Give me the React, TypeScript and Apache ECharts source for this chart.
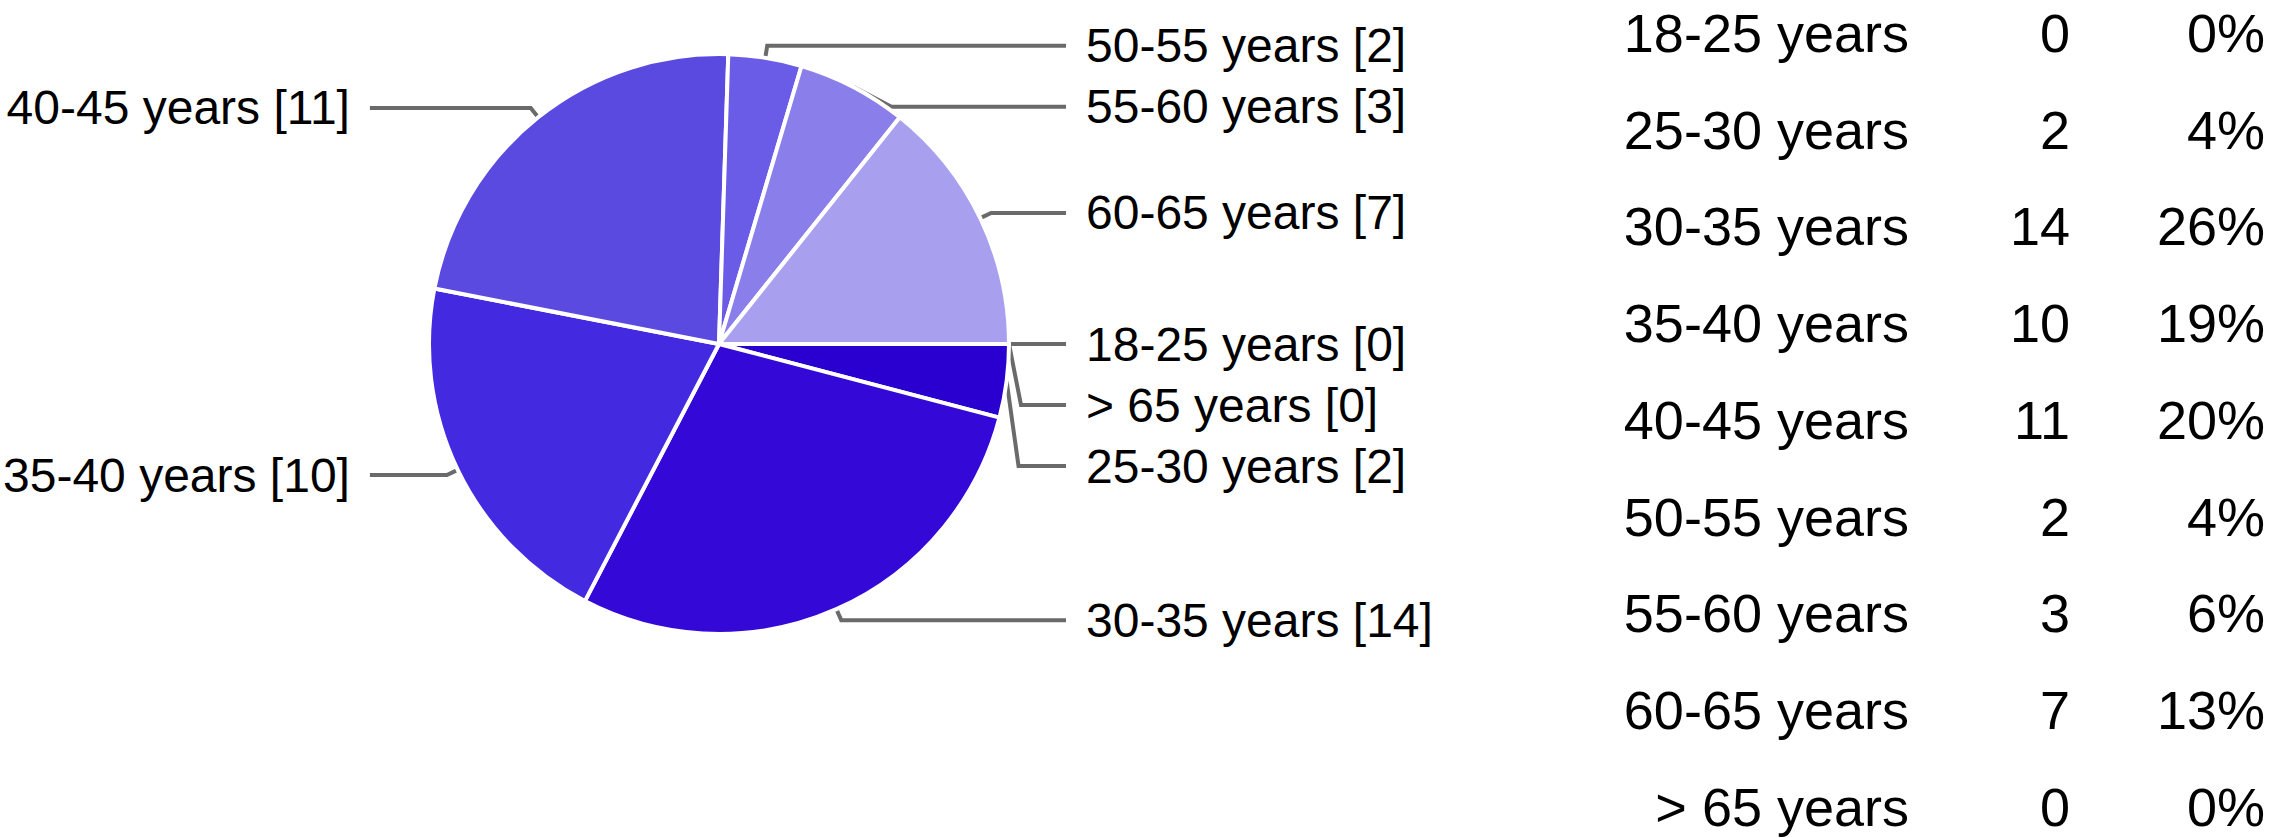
import React, { useEffect, useRef } from "react";
import * as echarts from "echarts";

// Pie data (in drawing order, clockwise from 3 o'clock)
const pieCategories = [
  "> 65 years",
  "25-30 years",
  "30-35 years",
  "35-40 years",
  "40-45 years",
  "50-55 years",
  "55-60 years",
  "60-65 years",
  "18-25 years",
];
const pieValues = [0, 2, 14, 10, 11, 2, 3, 7, 0];
const pieColors = [
  "#2a00d0",
  "#2a00d0",
  "#3409d8",
  "#4329e0",
  "#5b4ae0",
  "#6a5ce6",
  "#8a7eea",
  "#a8a0ee",
  "#a8a0ee",
];

// Summary table
const tableCategories = [
  "18-25 years",
  "25-30 years",
  "30-35 years",
  "35-40 years",
  "40-45 years",
  "50-55 years",
  "55-60 years",
  "60-65 years",
  "> 65 years",
];
const tableCounts = [0, 2, 14, 10, 11, 2, 3, 7, 0];
const tablePercents = ["0%", "4%", "26%", "19%", "20%", "4%", "6%", "13%", "0%"];

const FONT = "'Liberation Sans', Arial, Helvetica, sans-serif";

export default function App() {
  const ref = useRef<HTMLDivElement>(null);

  useEffect(() => {
    if (!ref.current) return;
    const chart = echarts.init(ref.current, undefined, { renderer: "svg" });

    const leftSide = new Set(["35-40 years", "40-45 years"]);

    const data = pieCategories.map((name, i) => ({
      name,
      value: pieValues[i],
      itemStyle: { color: pieColors[i] },
      labelLine: { length: 12, length2: leftSide.has(name) ? 77 : 45 },
    }));

    const rowY0 = 33;
    const rowStep = 96.7;
    const graphics: any[] = [];
    tableCategories.forEach((name, i) => {
      const y = rowY0 + i * rowStep;
      const mk = (text: string, x: number) => ({
        type: "text",
        x,
        y,
        style: {
          text,
          align: "right",
          verticalAlign: "middle",
          fontSize: 54,
          lineHeight: 44,
          fontFamily: FONT,
          fill: "#000",
        },
      });
      graphics.push(mk(name, 1909));
      graphics.push(mk(String(tableCounts[i]), 2070));
      graphics.push(mk(tablePercents[i], 2265));
    });

    chart.setOption({
      animation: false,
      backgroundColor: "#fff",
      series: [
        {
          type: "pie",
          center: [719, 344],
          radius: 290,
          startAngle: 0,
          clockwise: true,
          avoidLabelOverlap: true,
          data,
          itemStyle: { borderColor: "#fff", borderWidth: 4 },
          label: {
            show: true,
            formatter: "{b} [{c}]",
            fontSize: 48,
            lineHeight: 59,
            fontFamily: FONT,
            color: "#000",
            alignTo: "labelLine",
            distanceToLabelLine: 20,
            bleedMargin: 0,
            overflow: "none",
          },
          labelLine: {
            show: true,
            length: 12,
            length2: 45,
            smooth: false,
            lineStyle: { color: "#6a6a6a", width: 4 },
          },
          emphasis: { disabled: true },
        },
      ],
      graphic: graphics,
    });

    return () => chart.dispose();
  }, []);

  return (
    <div
      ref={ref}
      style={{ position: "fixed", left: 0, top: 0, width: 2269, height: 838 }}
    />
  );
}
